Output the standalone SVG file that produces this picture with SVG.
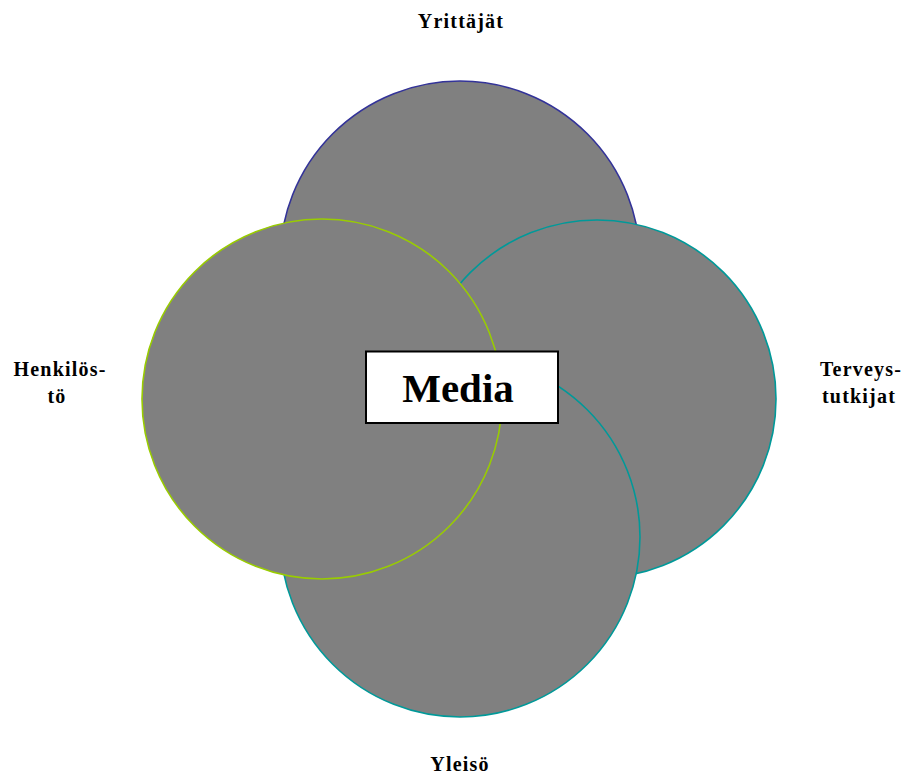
<svg xmlns="http://www.w3.org/2000/svg" width="906" height="776" viewBox="0 0 906 776">
<style>
.c{fill:#808080;stroke-width:1.6}
.lbl{font-family:"Liberation Serif","Times New Roman",serif;font-weight:bold;font-size:20px;letter-spacing:1.2px;text-anchor:middle;fill:#000}
</style>
<rect width="906" height="776" fill="#fff"/>
<g id="yrittajat"><circle class="c" cx="460" cy="261" r="180" stroke="#333399"/></g>
<g id="terveystutkijat"><circle class="c" cx="597" cy="399" r="179" stroke="#009999"/></g>
<g id="yleiso"><circle class="c" cx="460" cy="537" r="180" stroke="#009999"/></g>
<g id="henkilosto"><circle class="c" cx="322" cy="399" r="180" stroke="#99CC00"/></g>
<g id="media">
<rect x="366" y="351.5" width="192" height="71.5" fill="#fff" stroke="#000" stroke-width="2"/>
<text x="458" y="401.5" style="font-family:'Liberation Serif','Times New Roman',serif;font-weight:bold;font-size:41px;text-anchor:middle">Media</text>
</g>
<g id="labels">
<text class="lbl" x="461" y="28">Yrittäjät</text>
<text class="lbl" x="60" y="376">Henkilös-</text>
<text class="lbl" x="57" y="402.5">tö</text>
<text class="lbl" x="861" y="376">Terveys-</text>
<text class="lbl" x="859" y="402.5">tutkijat</text>
<text class="lbl" x="460" y="771">Yleisö</text>
</g>
<g id="connectors"></g>
</svg>
